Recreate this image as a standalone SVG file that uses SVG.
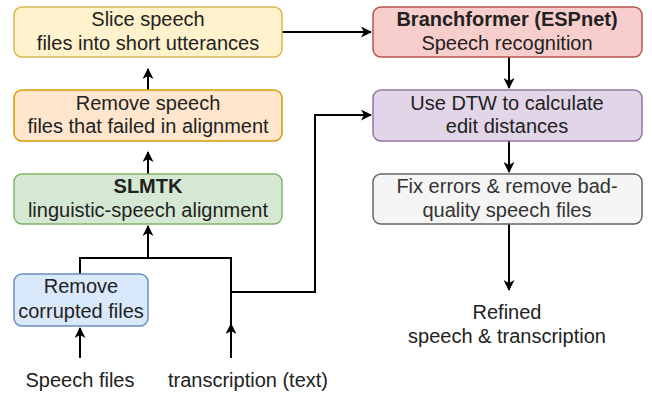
<svg xmlns="http://www.w3.org/2000/svg" width="652" height="393" viewBox="0 0 652 393">
<style>
text{font-family:"Liberation Sans",Arial,sans-serif;font-size:20px;fill:#222;text-anchor:middle}
.b{font-weight:bold}
.e{fill:none;stroke:#000;stroke-width:2}
rect{stroke-width:1.5}
</style>
<defs>
<marker id="a" markerWidth="11" markerHeight="11" refX="10" refY="5.5" orient="auto" markerUnits="userSpaceOnUse" viewBox="0 0 11 11">
<path d="M0,0 L11,5.5 L0,11 L3,5.5 Z" fill="#000"/>
</marker>
</defs>
<rect width="652" height="393" fill="#fff" style="stroke:none"/>
<g id="connectors">
<path class="e" d="M148,90 V69" marker-end="url(#a)"/>
<path class="e" d="M148,174 V152" marker-end="url(#a)"/>
<path class="e" d="M282,32 H371" marker-end="url(#a)"/>
<path class="e" d="M80,274 V258 H231 V358"/>
<path class="e" d="M148,258 V226" marker-end="url(#a)"/>
<path class="e" d="M231,358 V324" marker-end="url(#a)"/>
<path class="e" d="M80,358 V328" marker-end="url(#a)"/>
<path class="e" d="M231,292 H315 V115 H371" marker-end="url(#a)"/>
<path class="e" d="M509,57 V88" marker-end="url(#a)"/>
<path class="e" d="M509,141 V172" marker-end="url(#a)"/>
<path class="e" d="M509,224 V290" marker-end="url(#a)"/>
</g>
<g id="slice">
<rect x="14" y="7" width="268" height="50" rx="8" fill="#fff2cc" stroke="#d6b656"/>
<text x="148" y="26">Slice speech</text>
<text x="148" y="50">files into short utterances</text>
</g>
<g id="remove-failed">
<rect x="14" y="90" width="268" height="51" rx="8" fill="#ffe6cc" stroke="#d79b00"/>
<text x="148" y="110">Remove speech</text>
<text x="148" y="133">files that failed in alignment</text>
</g>
<g id="slmtk">
<rect x="14" y="174" width="268" height="50" rx="8" fill="#d5e8d4" stroke="#82b366"/>
<text x="148" y="193" class="b">SLMTK</text>
<text x="148" y="217">linguistic-speech alignment</text>
</g>
<g id="remove-corrupted">
<rect x="14" y="274" width="134" height="52" rx="8" fill="#dae8fc" stroke="#6c8ebf"/>
<text x="81" y="293">Remove</text>
<text x="81" y="318">corrupted files</text>
</g>
<g id="branchformer">
<rect x="373" y="7" width="269" height="50" rx="8" fill="#f8cecc" stroke="#b85450"/>
<text x="507" y="26" class="b">Branchformer (ESPnet)</text>
<text x="507" y="50">Speech recognition</text>
</g>
<g id="dtw">
<rect x="373" y="90" width="269" height="51" rx="8" fill="#e1d5e7" stroke="#9673a6"/>
<text x="507" y="110">Use DTW to calculate</text>
<text x="507" y="133">edit distances</text>
</g>
<g id="fix">
<rect x="373" y="174" width="269" height="50" rx="8" fill="#f5f5f5" stroke="#666666"/>
<text x="507" y="193" style="fill:#333">Fix errors &amp; remove bad-</text>
<text x="507" y="217" style="fill:#333">quality speech files</text>
</g>
<g id="refined">
<text x="507" y="319">Refined</text>
<text x="507" y="343">speech &amp; transcription</text>
</g>
<g id="speech-files">
<text x="80" y="387">Speech files</text>
</g>
<g id="transcription">
<text x="248" y="387">transcription (text)</text>
</g>
</svg>
